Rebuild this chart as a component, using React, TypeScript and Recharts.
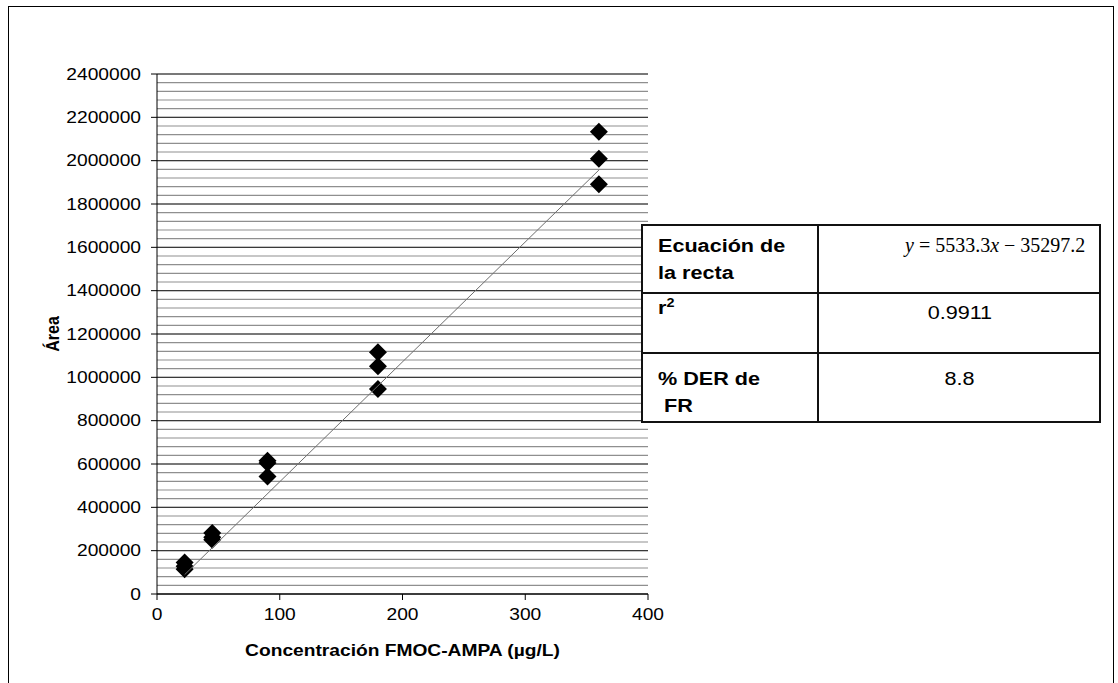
import { ScatterChart, Scatter, XAxis, YAxis, CartesianGrid, Label } from 'recharts';

// concentraciones (µg/L) y áreas de las tres réplicas
const concLevels = [22.5, 45, 90, 180, 360];
const areaRep1 = [145000, 281000, 615000, 1116000, 2134000];
const areaRep2 = [128000, 262000, 605000, 1051000, 2009000];
const areaRep3 = [114000, 250000, 542000, 946000, 1891000];

const xTicks = [0, 100, 200, 300, 400];
const yTicks = [0, 200000, 400000, 600000, 800000, 1000000, 1200000, 1400000, 1600000, 1800000, 2000000, 2200000, 2400000];
const yMinorStep = 40000;

// recta de calibración
const slope = 5533.3;
const intercept = -35297.2;
const r2Text = '0.9911';
const derText = '8.8';

const points = concLevels.flatMap((x, i) =>
  [areaRep1[i], areaRep2[i], areaRep3[i]].map((y) => ({ x, y })),
);
const xFirst = concLevels[0];
const xLast = concLevels[concLevels.length - 1];
const trend = [
  { x: xFirst, y: slope * xFirst + intercept },
  { x: xLast, y: slope * xLast + intercept },
];
const yMinor = Array.from({ length: 2400000 / yMinorStep + 1 }, (_, i) => i * yMinorStep);

const SANS = '"Liberation Sans", Arial, sans-serif';
const STRETCH = 1.2;

const Diamond = (p: any) => {
  const { cx, cy } = p;
  const r = 9;
  return <path d={`M${cx},${cy - r}L${cx + r},${cy}L${cx},${cy + r}L${cx - r},${cy}Z`} fill="#000" />;
};

const YTick = ({ x, y, payload }: any) => (
  <text
    transform={`translate(${x},${y}) scale(${STRETCH},1)`}
    textAnchor="end"
    dy="0.35em"
    fontSize={16}
    fontFamily={SANS}
    fill="#000"
  >
    {String(payload.value)}
  </text>
);

const XTick = ({ x, y, payload }: any) => (
  <text
    transform={`translate(${x},${y}) scale(${STRETCH},1)`}
    textAnchor="middle"
    dy="0.71em"
    fontSize={16}
    fontFamily={SANS}
    fill="#000"
  >
    {String(payload.value)}
  </text>
);

const stretched = (origin: string) => ({
  display: 'inline-block',
  transform: `scaleX(${STRETCH})`,
  transformOrigin: origin,
  whiteSpace: 'pre' as const,
});

const cellText = (left: number, top: number, bold: boolean) => ({
  position: 'absolute' as const,
  left,
  top,
  fontSize: 18,
  lineHeight: '27px',
  fontWeight: bold ? 700 : 400,
  fontFamily: SANS,
  color: '#000',
});

function FitTable() {
  const line = '#111';
  return (
    <>
      <div
        style={{
          position: 'absolute', left: 632, top: 217, width: 460, height: 199,
          border: `2px solid ${line}`, boxSizing: 'border-box', background: '#fff',
        }}
      />
      <div style={{ position: 'absolute', left: 808, top: 217, width: 2, height: 199, background: line }} />
      <div style={{ position: 'absolute', left: 632, top: 285, width: 460, height: 2, background: line }} />
      <div style={{ position: 'absolute', left: 632, top: 345, width: 460, height: 2, background: line }} />

      <div style={cellText(649, 226, true)}>
        <span style={stretched('left')}>Ecuación de</span>
        <br />
        <span style={stretched('left')}>la recta</span>
      </div>
      <div
        style={{
          position: 'absolute', left: 896, top: 225, fontSize: 20, lineHeight: '27px',
          fontFamily: '"Liberation Serif", "Times New Roman", serif', color: '#000', whiteSpace: 'pre',
        }}
      >
        <i>y</i> = {slope}<i>x</i> − {Math.abs(intercept)}
      </div>

      <div style={cellText(649, 288, true)}>
        <span style={stretched('left')}>
          r<sup style={{ fontSize: 12, verticalAlign: '7px', lineHeight: 0 }}>2</sup>
        </span>
      </div>
      <div style={{ ...cellText(810, 293, false), width: 282, textAlign: 'center' }}>
        <span style={stretched('center')}>{r2Text}</span>
      </div>

      <div style={cellText(649, 359, true)}>
        <span style={stretched('left')}>% DER de</span>
        <br />
        <span style={stretched('left')}> FR</span>
      </div>
      <div style={{ ...cellText(810, 359, false), width: 282, textAlign: 'center' }}>
        <span style={stretched('center')}>{derText}</span>
      </div>
    </>
  );
}

export default function App() {
  return (
    <div
      style={{
        position: 'absolute', left: 8, top: 6, width: 1106, height: 700,
        border: '1px solid #000', boxSizing: 'border-box', background: '#fff', fontFamily: SANS,
      }}
    >
      <div style={{ position: 'absolute', left: 0, top: 0 }}>
        <ScatterChart width={1100} height={670} margin={{ top: 67, right: 461, bottom: 43, left: 48 }}>
          <CartesianGrid vertical={false} horizontalValues={yMinor} stroke="#8f8f8f" strokeWidth={1.2} />
          <CartesianGrid vertical={false} horizontalValues={yTicks} stroke="#2a2a2a" strokeWidth={1} />
          <XAxis
            type="number"
            dataKey="x"
            domain={[0, 400]}
            ticks={xTicks}
            interval={0}
            height={40}
            tickSize={6}
            tickMargin={9}
            tick={<XTick />}
            axisLine={{ stroke: '#000' }}
            tickLine={{ stroke: '#000' }}
          >
            <Label
              content={(props: any) => {
                const vb = props.viewBox;
                return (
                  <text
                    transform={`translate(${vb.x + vb.width / 2},${vb.y + 62}) scale(${STRETCH},1)`}
                    textAnchor="middle"
                    fontSize={16}
                    fontWeight={700}
                    fontFamily={SANS}
                    fill="#000"
                  >
                    Concentración FMOC-AMPA (µg/L)
                  </text>
                );
              }}
            />
          </XAxis>
          <YAxis
            type="number"
            dataKey="y"
            domain={[0, 2400000]}
            ticks={yTicks}
            interval={0}
            width={100}
            tickSize={6}
            tickMargin={10}
            tick={<YTick />}
            axisLine={{ stroke: '#000' }}
            tickLine={{ stroke: '#000' }}
          >
            <Label
              content={(props: any) => {
                const vb = props.viewBox;
                return (
                  <text
                    transform={`translate(${vb.x + 2},${vb.y + vb.height / 2}) rotate(-90) scale(1,${STRETCH})`}
                    textAnchor="middle"
                    fontSize={16}
                    fontWeight={700}
                    fontFamily={SANS}
                    fill="#000"
                  >
                    Área
                  </text>
                );
              }}
            />
          </YAxis>
          <Scatter data={points} shape={<Diamond />} isAnimationActive={false} />
          <Scatter
            data={trend}
            line={{ stroke: '#6e6e6e', strokeWidth: 1 }}
            shape={() => <g />}
            isAnimationActive={false}
          />
        </ScatterChart>
      </div>
      <FitTable />
    </div>
  );
}
